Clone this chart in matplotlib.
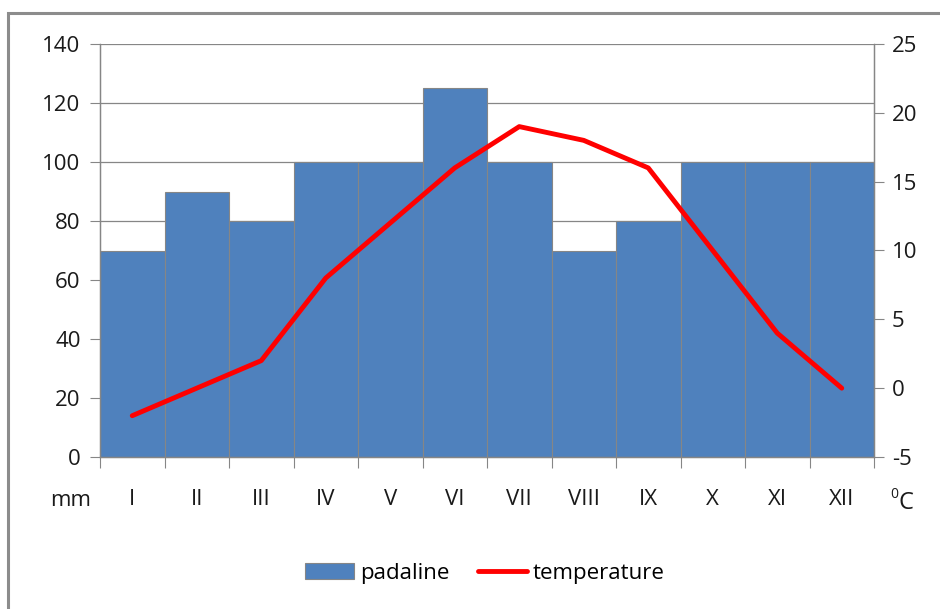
import numpy as np
import matplotlib.pyplot as plt
from matplotlib.patches import Rectangle

months = ['I', 'II', 'III', 'IV', 'V', 'VI', 'VII', 'VIII', 'IX', 'X', 'XI', 'XII']
padaline = [70, 90, 80, 100, 100, 125, 100, 70, 80, 100, 100, 100]
temperature = [-2, 0, 2, 8, 12, 16, 19, 18, 16, 10, 4, 0]

plt.rcParams['font.family'] = ['Open Sans', 'DejaVu Sans']
plt.rcParams['axes.unicode_minus'] = False
fs = 16
txt = '#1a1a1a'

W, H = 940, 609
fig = plt.figure(figsize=(W / 100, H / 100), dpi=100)
ax = fig.add_axes([100 / W, 1 - 457 / H, 774 / W, 413 / H])
ax2 = ax.twinx()

x = np.arange(len(months))
grey = '#868686'
bars = ax.bar(x, padaline, width=1.0, color='#4F81BD', edgecolor=grey,
              linewidth=0.8, zorder=2, label='padaline')
ax.set_xlim(-0.5, len(months) - 0.5)
ax.set_ylim(0, 140)
ax.set_yticks(range(0, 141, 20))
ax.yaxis.grid(True, color=grey, linewidth=0.9, zorder=0)
ax.set_axisbelow(True)

ax.set_xticks(np.arange(-0.5, len(months), 1.0))
ax.set_xticklabels([])
ax.set_xticks(x, minor=True)
ax.set_xticklabels(months, minor=True)
ax.tick_params(axis='x', which='major', direction='out', length=8, color=grey)
ax.tick_params(axis='x', which='minor', length=0, pad=23, labelsize=fs,
               labelcolor=txt)
ax.tick_params(axis='y', direction='out', length=7, color=grey,
               labelsize=fs, pad=7, labelcolor=txt)

line, = ax2.plot(x, temperature, color='#FF0000', linewidth=3.5,
                 solid_capstyle='round', zorder=3, label='temperature')
ax2.set_ylim(-5, 25)
ax2.set_yticks(range(-5, 26, 5))
ax2.tick_params(axis='y', direction='out', length=7, color=grey,
                labelsize=fs, pad=6, labelcolor=txt)

for a in (ax, ax2):
    for side in ('left', 'right', 'bottom'):
        a.spines[side].set_color(grey)
        a.spines[side].set_linewidth(0.9)
    a.spines['top'].set_visible(False)

fig.text(71 / W, 1 - 500 / H, 'mm', ha='center', va='center',
         fontsize=fs, color=txt)
fig.text(894 / W, 1 - 494 / H, '0', ha='center', va='center',
         fontsize=10, color=txt)
fig.text(906 / W, 1 - 503 / H, 'C', ha='center', va='center',
         fontsize=17, color=txt)

fig.legend(handles=[bars, line], labels=['padaline', 'temperature'],
           loc='center', bbox_to_anchor=(485 / W, 1 - 573 / H), ncol=2,
           frameon=False, fontsize=fs, handlelength=2.2, columnspacing=1.3,
           handletextpad=0.25)

fig.patches.append(Rectangle((8 / W, -0.05), 1.1, 1 - 13 / H + 0.05,
                             transform=fig.transFigure, fill=False,
                             edgecolor='#8C8C8C', linewidth=2.2))

fig.savefig('out.png', dpi=100)
